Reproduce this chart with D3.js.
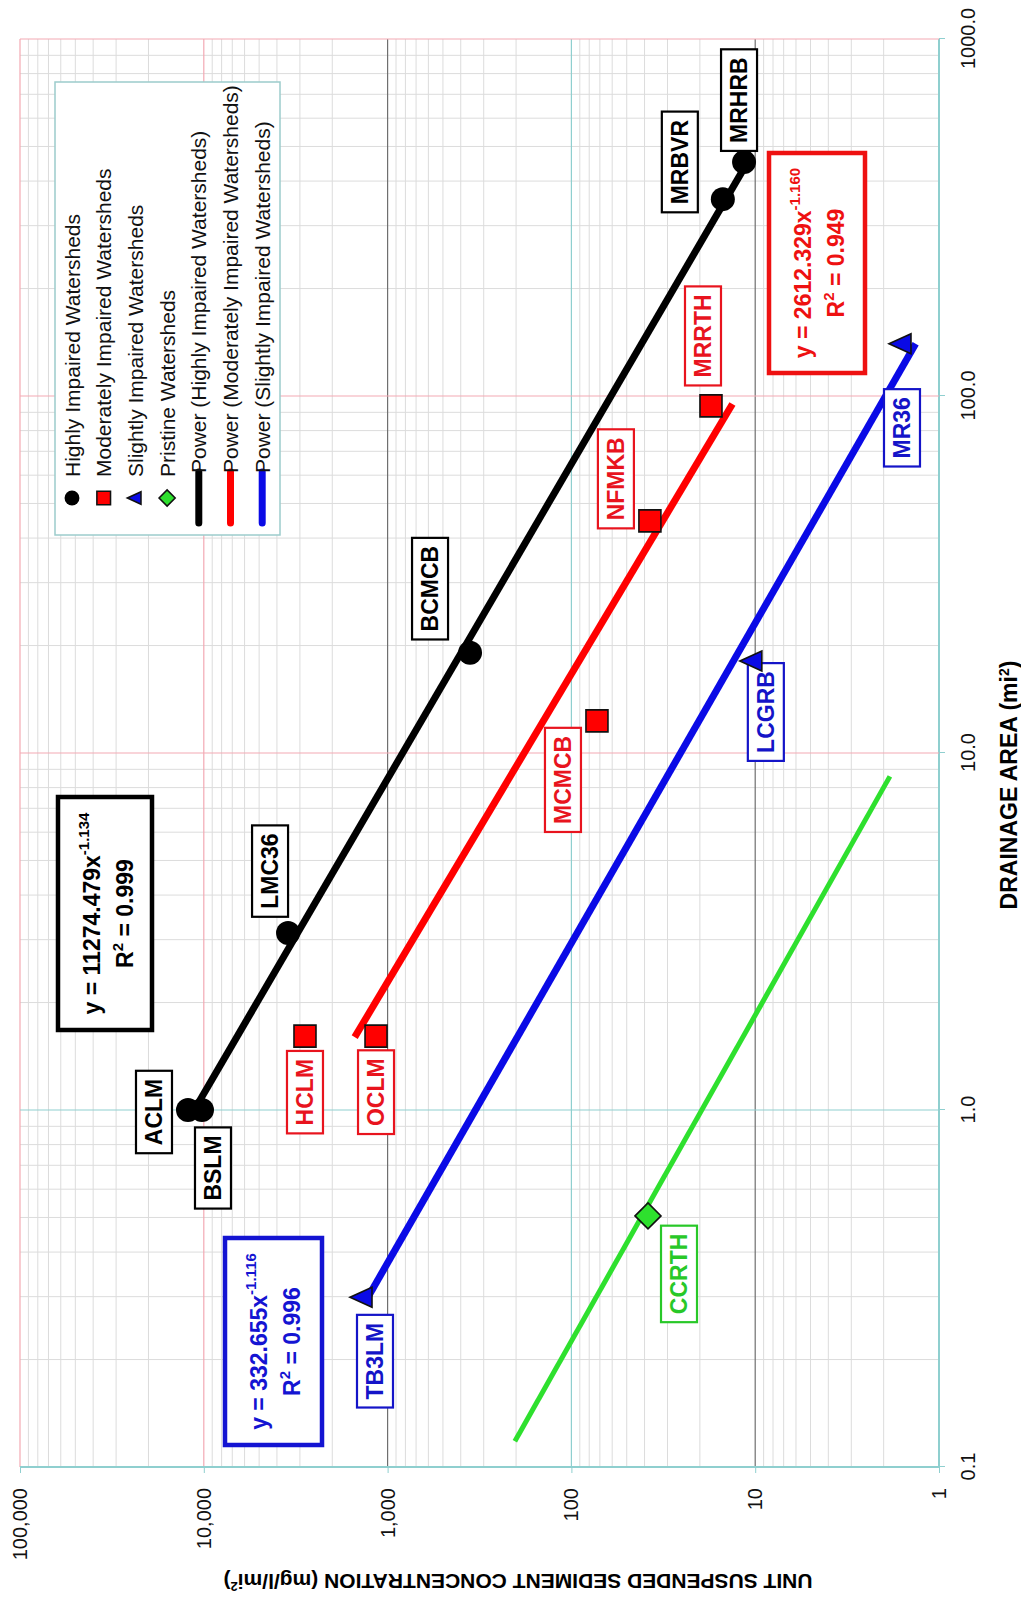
<!DOCTYPE html>
<html>
<head>
    <title>Unit suspended sediment concentration vs drainage area</title>
    <script src="https://cdn.jsdelivr.net/npm/d3@7"></script>
    <style>
        body { margin: 0; background: #fff; }
    </style>
</head>
<body>
<div id="chart"></div>
<script>

    // data - drainage area (mi2) and unit suspended sediment concentration (mg/l/mi2)
    const highlyNames = ["ACLM", "BSLM", "LMC36", "BCMCB", "MRBVR", "MRHRB"];
    const highlyArea = [1.0, 1.0, 3.13, 19.1, 356, 452];
    const highlyConc = [12190, 10230, 3480, 356, 15.0, 11.5];

    const moderateNames = ["HCLM", "OCLM", "MCMCB", "NFMKB", "MRRTH"];
    const moderateArea = [1.61, 1.61, 12.3, 44.7, 93.8];
    const moderateConc = [2815, 1156, 72.6, 37.4, 17.4];

    const slightNames = ["TB3LM", "LCGRB", "MR36"];
    const slightArea = [0.299, 18.1, 140];
    const slightConc = [1361, 10.3, 1.59];

    const pristineNames = ["CCRTH"];
    const pristineArea = [0.505];
    const pristineConc = [38.3];

    // power trendline end points
    const highlyFitArea = [1.0, 452];
    const highlyFitConc = [11274, 11.0];
    const moderateFitArea = [1.6, 95];
    const moderateFitConc = [1510, 13.3];
    const slightFitArea = [0.3, 140];
    const slightFitConc = [1275, 1.34];
    const pristineFitArea = [0.118, 8.6];
    const pristineFitConc = [203, 1.85];

    // trendline equations
    const highlyEq = ["11274.479", "-1.134", "0.999"];
    const moderateEq = ["2612.329", "-1.160", "0.949"];
    const slightEq = ["332.655", "-1.116", "0.996"];

    const areaTicks = [0.1, 1, 10, 100, 1000];
    const concTicks = [1, 10, 100, 1000, 10000, 100000];

    const legendLabels = [
        "Highly Impaired Watersheds",
        "Moderately Impaired Watersheds",
        "Slightly Impaired Watersheds",
        "Pristine Watersheds",
        "Power (Highly Impaired Watersheds)",
        "Power (Moderately Impaired Watersheds)",
        "Power (Slightly Impaired Watersheds)"
    ];

    // colours
    const cBlack = "#000000", cRed = "#ff0000", cBlue = "#0a0ae6", cGreen = "#2ee02e";
    const narrow = "'Liberation Sans Narrow', 'Arial Narrow', 'Liberation Sans', Arial, sans-serif";
    const regular = "'Liberation Sans', Arial, sans-serif";

    // the chart is drawn landscape and then turned a quarter turn
    const W = 1598, H = 1021;
    const plot = { left: 131, right: 1559, top: 20, bottom: 939 };

    const svg = d3.select("#chart")
        .append("svg")
            .attr("width", H)
            .attr("height", W);

    const g = svg.append("g")
        .attr("transform", `translate(0,${W}) rotate(-90)`);

    const x = d3.scaleLog()
        .domain([0.1, 1000])
        .range([plot.left, plot.right]);

    const y = d3.scaleLog()
        .domain([1, 100000])
        .range([plot.bottom, plot.top]);

    // minor grid
    g.append("g").selectAll("line")
        .data(x.ticks().filter(d => !areaTicks.includes(d)))
        .join("line")
            .attr("x1", d => x(d)).attr("x2", d => x(d))
            .attr("y1", plot.top).attr("y2", plot.bottom)
            .attr("stroke", "#dcdcdc").attr("stroke-width", 1);

    g.append("g").selectAll("line")
        .data(y.ticks().filter(d => !concTicks.includes(d)))
        .join("line")
            .attr("y1", d => y(d)).attr("y2", d => y(d))
            .attr("x1", plot.left).attr("x2", plot.right)
            .attr("stroke", "#dcdcdc").attr("stroke-width", 1);

    // major grid
    const areaColor = d => d <= 1 ? "#8fcfcf" : "#f3a9b3";
    const concColor = d => d >= 10000 ? "#f3a9b3" : (d === 1000 || d === 10) ? "#6f6f6f" : "#8fcfcf";

    g.append("g").selectAll("line")
        .data(concTicks)
        .join("line")
            .attr("y1", d => y(d)).attr("y2", d => y(d))
            .attr("x1", plot.left).attr("x2", plot.right)
            .attr("stroke", concColor).attr("stroke-width", d => d === 1 ? 2 : 1.2);

    g.append("g").selectAll("line")
        .data(areaTicks)
        .join("line")
            .attr("x1", d => x(d)).attr("x2", d => x(d))
            .attr("y1", plot.top).attr("y2", plot.bottom)
            .attr("stroke", areaColor).attr("stroke-width", d => d === 0.1 ? 2 : 1.2);

    // axes
    const xAxis = g.append("g")
        .attr("transform", `translate(0,${plot.bottom})`)
        .call(d3.axisBottom(x).tickValues(areaTicks).tickFormat(d3.format(".1f"))
            .tickSize(6).tickPadding(16));

    const yAxis = g.append("g")
        .attr("transform", `translate(${plot.left},0)`)
        .call(d3.axisLeft(y).tickValues(concTicks).tickFormat(d3.format(","))
            .tickSize(6).tickPadding(15));

    [xAxis, yAxis].forEach(a => {
        a.select(".domain").remove();
        a.selectAll(".tick line").attr("stroke", "#8fcfcf");
        a.selectAll("text")
            .attr("font-family", narrow)
            .attr("font-size", 20)
            .attr("fill", "#111");
    });

    // axis titles
    g.append("text")
        .attr("x", 813).attr("y", 1017)
        .attr("text-anchor", "middle")
        .attr("font-family", narrow).attr("font-weight", "bold").attr("font-size", 23)
        .text("DRAINAGE AREA (mi")
        .call(t => t.append("tspan").attr("dy", -8).attr("font-size", 14).text("2"))
        .call(t => t.append("tspan").attr("dy", 8).text(")"));

    g.append("text")
        .attr("transform", `translate(24,518) rotate(-90)`)
        .attr("text-anchor", "middle")
        .attr("font-family", narrow).attr("font-weight", "bold").attr("font-size", 21)
        .text("UNIT SUSPENDED SEDIMENT CONCENTRATION (mg/l/mi")
        .call(t => t.append("tspan").attr("dy", -8).attr("font-size", 13).text("2"))
        .call(t => t.append("tspan").attr("dy", 8).text(")"));

    // trendlines
    const line = d3.line().x(d => x(d[0])).y(d => y(d[1]));
    const fits = [
        { a: pristineFitArea, c: pristineFitConc, color: cGreen, w: 5 },
        { a: slightFitArea, c: slightFitConc, color: cBlue, w: 7 },
        { a: moderateFitArea, c: moderateFitConc, color: cRed, w: 7 },
        { a: highlyFitArea, c: highlyFitConc, color: cBlack, w: 7 }
    ];
    g.append("g").selectAll("path")
        .data(fits)
        .join("path")
            .attr("d", d => line(d3.zip(d.a, d.c)))
            .attr("fill", "none")
            .attr("stroke", d => d.color)
            .attr("stroke-width", d => d.w);

    // marker shapes (drawn in the landscape frame)
    const shapes = {
        circle: "M12,0A12,12 0 1,1 -12,0A12,12 0 1,1 12,0Z",
        square: "M-11,-11H11V11H-11Z",
        triangle: "M0,-13L10,9L-10,9Z",
        diamond: "M0,-13L13,0L0,13L-13,0Z"
    };

    // label offsets from each point, in the landscape frame
    const labelOffset = {
        ACLM: [-2, -34], BSLM: [-58, 11], LMC36: [62, -18], BCMCB: [64, -40],
        MRBVR: [37, -43], MRHRB: [62, -5],
        HCLM: [-56, 0], OCLM: [-56, 0], MCMCB: [-59, -34], NFMKB: [42, -34], MRRTH: [70, -8],
        TB3LM: [-64, 12], LCGRB: [-51, 13], MR36: [-84, 0],
        CCRTH: [-58, 31]
    };

    const groups = [
        { names: highlyNames, a: highlyArea, c: highlyConc, shape: "circle", fill: cBlack, stroke: cBlack, text: cBlack },
        { names: moderateNames, a: moderateArea, c: moderateConc, shape: "square", fill: cRed, stroke: "#111", text: "#e8141e" },
        { names: slightNames, a: slightArea, c: slightConc, shape: "triangle", fill: cBlue, stroke: "#111", text: "#1414c8" },
        { names: pristineNames, a: pristineArea, c: pristineConc, shape: "diamond", fill: cGreen, stroke: "#111", text: "#28c828" }
    ];

    groups.forEach(grp => {
        const pts = grp.names.map((n, i) => ({ name: n, a: grp.a[i], c: grp.c[i] }));

        // label boxes
        const lab = g.append("g").selectAll("g")
            .data(pts)
            .join("g")
                .attr("transform", d => `translate(${x(d.a) + labelOffset[d.name][0]},${y(d.c) + labelOffset[d.name][1]})`);
        lab.append("text")
            .attr("text-anchor", "middle")
            .attr("dy", "0.36em")
            .attr("font-family", narrow).attr("font-weight", "bold").attr("font-size", 23)
            .attr("fill", grp.text)
            .text(d => d.name);
        lab.each(function() {
            const bb = d3.select(this).select("text").node().getBBox();
            d3.select(this).insert("rect", "text")
                .attr("x", bb.x - 8).attr("y", -18)
                .attr("width", bb.width + 16).attr("height", 36)
                .attr("fill", "#fff")
                .attr("stroke", grp.text).attr("stroke-width", 2.2);
        });

        // markers
        g.append("g").selectAll("path")
            .data(pts)
            .join("path")
                .attr("transform", d => `translate(${x(d.a)},${y(d.c)})`)
                .attr("d", shapes[grp.shape])
                .attr("fill", grp.fill)
                .attr("stroke", grp.stroke)
                .attr("stroke-width", grp.shape === "circle" ? 0 : 1.6);
    });

    // equation boxes
    const eqBoxes = [
        { eq: highlyEq, color: cBlack, u: 568, v: 58, w: 233, h: 94 },
        { eq: moderateEq, color: "#ee1111", u: 1225, v: 769, w: 220, h: 96 },
        { eq: slightEq, color: "#1414d2", u: 153, v: 225, w: 207, h: 97 }
    ];
    eqBoxes.forEach(b => {
        const eg = g.append("g").attr("transform", `translate(${b.u},${b.v})`);
        eg.append("rect")
            .attr("width", b.w).attr("height", b.h)
            .attr("fill", "#fff")
            .attr("stroke", b.color).attr("stroke-width", 4.5);
        eg.append("text")
            .attr("x", b.w / 2).attr("y", 42)
            .attr("text-anchor", "middle")
            .attr("font-family", regular).attr("font-weight", "bold").attr("font-size", 23)
            .attr("fill", b.color)
            .text(`y = ${b.eq[0]}x`)
            .append("tspan").attr("dy", -11).attr("font-size", 15).text(b.eq[1]);
        eg.append("text")
            .attr("x", b.w / 2).attr("y", 75)
            .attr("text-anchor", "middle")
            .attr("font-family", regular).attr("font-weight", "bold").attr("font-size", 23)
            .attr("fill", b.color)
            .text("R")
            .call(t => t.append("tspan").attr("dy", -10).attr("font-size", 15).text("2"))
            .call(t => t.append("tspan").attr("dy", 10).text(` = ${b.eq[2]}`));
    });

    // legend
    const leg = g.append("g").attr("transform", "translate(1063,55)");
    leg.append("rect")
        .attr("width", 453).attr("height", 225)
        .attr("fill", "#fff")
        .attr("stroke", "#9ccccc").attr("stroke-width", 1.5);

    const legendKeys = [
        { shape: "circle", fill: cBlack }, { shape: "square", fill: cRed },
        { shape: "triangle", fill: cBlue }, { shape: "diamond", fill: cGreen },
        { line: cBlack }, { line: cRed }, { line: cBlue }
    ];
    const rows = leg.selectAll("g")
        .data(legendLabels)
        .join("g")
            .attr("transform", (d, i) => `translate(0,${17 + i * 31.7})`);
    rows.each(function(d, i) {
        const k = legendKeys[i];
        const r = d3.select(this);
        if (k.line) {
            r.append("line")
                .attr("x1", 12).attr("x2", 63)
                .attr("stroke", k.line).attr("stroke-width", 7)
                .attr("stroke-linecap", "round");
        } else {
            r.append("path")
                .attr("transform", `translate(37,0) scale(0.62)`)
                .attr("d", shapes[k.shape])
                .attr("fill", k.fill)
                .attr("stroke", "#111").attr("stroke-width", k.shape === "circle" ? 0 : 2.5);
        }
        r.append("text")
            .attr("x", k.line ? 62 : 58)
            .attr("dy", "0.36em")
            .attr("font-family", regular).attr("font-size", 21)
            .attr("fill", "#111")
            .text(d);
    });

</script>
</body>
</html>
